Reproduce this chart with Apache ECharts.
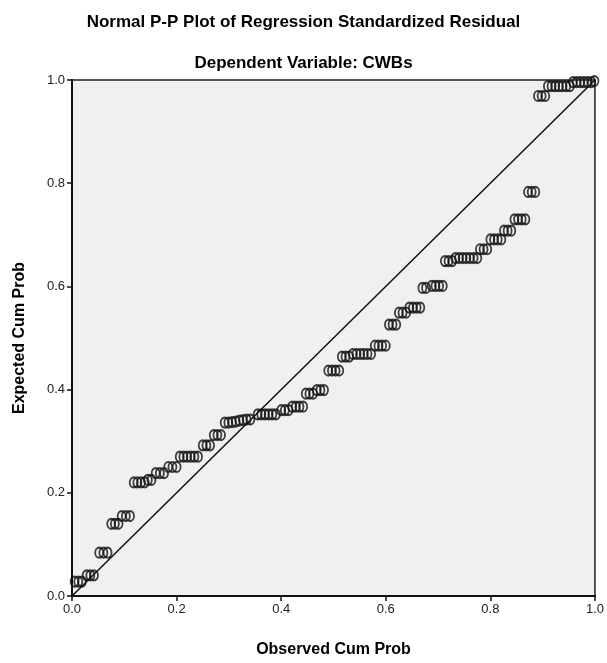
<!DOCTYPE html>
<html>
<head>
<meta charset="utf-8">
<script src="https://cdn.jsdelivr.net/npm/echarts@6/dist/echarts.min.js"></script>
<style>
  html, body { margin: 0; padding: 0; background: #fff; }
  #main { width: 607px; height: 663px; }
</style>
</head>
<body>
<div id="main"></div>
<script>
// observed cum prob (x) / expected cum prob (y)
var observed = [
    0.005, 0.012, 0.019,
    0.028, 0.035, 0.042,
    0.052, 0.060, 0.068,
    0.075, 0.082, 0.089,
    0.095, 0.103, 0.111,
    0.118, 0.125, 0.132, 0.139,
    0.145, 0.152,
    0.160, 0.168, 0.176,
    0.184, 0.192, 0.200,
    0.206, 0.213, 0.220, 0.227, 0.234, 0.241,
    0.250, 0.257, 0.264,
    0.271, 0.278, 0.285,
    0.292, 0.299, 0.306, 0.313, 0.320, 0.327, 0.334, 0.341,
    0.355, 0.362, 0.369, 0.376, 0.383, 0.390,
    0.400, 0.407, 0.414,
    0.421, 0.428, 0.435, 0.442,
    0.447, 0.454, 0.461,
    0.468, 0.475, 0.482,
    0.490, 0.497, 0.504, 0.511,
    0.516, 0.523, 0.530,
    0.537, 0.544, 0.551, 0.558, 0.565, 0.572,
    0.579, 0.586, 0.593, 0.600,
    0.606, 0.613, 0.620,
    0.625, 0.632, 0.639,
    0.645, 0.652, 0.659, 0.666,
    0.670, 0.677,
    0.688, 0.695, 0.702, 0.709,
    0.713, 0.720, 0.727,
    0.733, 0.740, 0.747, 0.754, 0.761, 0.768, 0.775,
    0.780, 0.787, 0.794,
    0.800, 0.807, 0.814, 0.821,
    0.826, 0.833, 0.840,
    0.846, 0.853, 0.860, 0.867,
    0.872, 0.879, 0.886,
    0.891, 0.898, 0.905,
    0.910, 0.917, 0.924, 0.931, 0.938, 0.945, 0.952,
    0.958, 0.965, 0.972, 0.979, 0.986, 0.993, 0.999
];
var expected = [
    0.028, 0.028, 0.028,
    0.040, 0.040, 0.040,
    0.084, 0.084, 0.084,
    0.140, 0.140, 0.140,
    0.155, 0.155, 0.155,
    0.220, 0.220, 0.220, 0.220,
    0.225, 0.225,
    0.238, 0.238, 0.238,
    0.250, 0.250, 0.250,
    0.270, 0.270, 0.270, 0.270, 0.270, 0.270,
    0.292, 0.292, 0.292,
    0.312, 0.312, 0.312,
    0.336, 0.336, 0.337, 0.338, 0.340, 0.341, 0.342, 0.342,
    0.352, 0.352, 0.352, 0.352, 0.352, 0.352,
    0.360, 0.360, 0.360,
    0.367, 0.367, 0.367, 0.367,
    0.392, 0.392, 0.392,
    0.399, 0.399, 0.399,
    0.437, 0.437, 0.437, 0.437,
    0.464, 0.464, 0.464,
    0.469, 0.469, 0.469, 0.469, 0.469, 0.469,
    0.485, 0.485, 0.485, 0.485,
    0.526, 0.526, 0.526,
    0.549, 0.549, 0.549,
    0.559, 0.559, 0.559, 0.559,
    0.597, 0.597,
    0.601, 0.601, 0.601, 0.601,
    0.649, 0.649, 0.649,
    0.655, 0.655, 0.655, 0.655, 0.655, 0.655, 0.655,
    0.672, 0.672, 0.672,
    0.691, 0.691, 0.691, 0.691,
    0.708, 0.708, 0.708,
    0.730, 0.730, 0.730, 0.730,
    0.783, 0.783, 0.783,
    0.969, 0.969, 0.969,
    0.988, 0.988, 0.988, 0.988, 0.988, 0.988, 0.988,
    0.996, 0.996, 0.996, 0.996, 0.996, 0.996, 0.998
];
var tickLabels = ['0.0', '0.2', '0.4', '0.6', '0.8', '1.0'];
var refLine = [[0, 0], [1, 1]];

var points = [];
for (var i = 0; i < observed.length; i++) {
    points.push([observed[i], expected[i]]);
}

var font = 'Liberation Sans, Arial, sans-serif';
var option = {
    backgroundColor: '#fff',
    animation: false,
    title: [{
        text: 'Normal P-P Plot of Regression Standardized Residual',
        left: 'center',
        top: 9,
        textStyle: { fontFamily: font, fontSize: 17, fontWeight: 'bold', color: '#000' }
    }, {
        text: 'Dependent Variable: CWBs',
        left: 'center',
        top: 50,
        textStyle: { fontFamily: font, fontSize: 17, fontWeight: 'bold', color: '#000' }
    }],
    grid: {
        left: 72, right: 10, top: 80, bottom: 62,
        show: true,
        backgroundColor: '#f0f0f0',
        borderColor: '#222',
        borderWidth: 1.5
    },
    xAxis: {
        type: 'value', min: 0, max: 1, interval: 0.2,
        name: 'Observed Cum Prob',
        nameLocation: 'middle',
        nameGap: 46,
        nameTextStyle: { fontFamily: font, fontSize: 16, fontWeight: 'bold', color: '#000' },
        axisLine: { show: true, lineStyle: { color: '#111', width: 2 } },
        axisTick: { show: true, length: 5, lineStyle: { color: '#111', width: 1.5 } },
        splitLine: { show: false },
        axisLabel: {
            fontFamily: font, fontSize: 13, color: '#222', margin: 7,
            formatter: function (v) { return tickLabels[Math.round(v * 5)]; }
        }
    },
    yAxis: {
        type: 'value', min: 0, max: 1, interval: 0.2,
        name: 'Expected Cum Prob',
        nameLocation: 'middle',
        nameGap: 44,
        nameTextStyle: { fontFamily: font, fontSize: 16, fontWeight: 'bold', color: '#000' },
        axisLine: { show: true, lineStyle: { color: '#111', width: 2 } },
        axisTick: { show: true, length: 5, lineStyle: { color: '#111', width: 1.5 } },
        splitLine: { show: false },
        axisLabel: {
            fontFamily: font, fontSize: 13, color: '#222', margin: 7,
            formatter: function (v) { return tickLabels[Math.round(v * 5)]; }
        }
    },
    series: [{
        type: 'line',
        data: refLine,
        symbol: 'none',
        lineStyle: { color: '#111', width: 1.5 },
        z: 2
    }, {
        type: 'scatter',
        data: points,
        symbol: 'circle',
        symbolSize: [8, 10],
        itemStyle: {
            color: 'rgba(0,0,0,0)',
            borderColor: '#111',
            borderWidth: 2
        },
        z: 3
    }]
};
var myChart = echarts.init(document.getElementById('main'));
myChart.setOption(option);
</script>
</body>
</html>
